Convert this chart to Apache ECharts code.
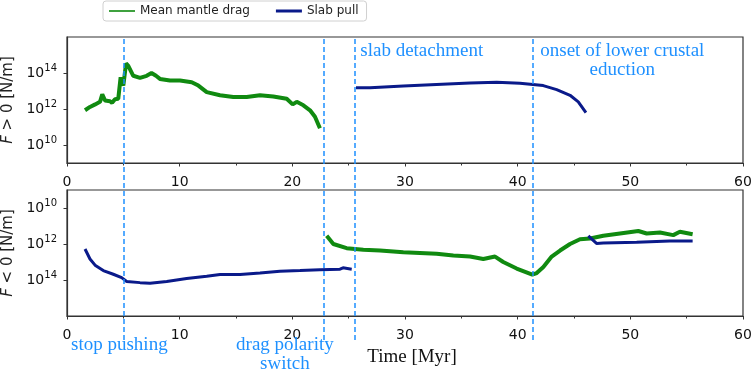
<!DOCTYPE html>
<html>
<head>
<meta charset="utf-8">
<script src="https://cdn.jsdelivr.net/npm/echarts@6/dist/echarts.min.js"></script>
<style>html,body{margin:0;padding:0;background:#fff}#c{width:754px;height:374px}</style>
</head>
<body>
<div id="c"></div>
<script>
// ---- data (time in Myr, force in N/m) ----
const dragUpperT = [1.6,2.04,2.5,2.93,3.13,3.37,3.82,4.0,4.26,4.55,4.76,5.0,5.24,5.44,5.88,6.48,7.07,7.5,7.9,8.25,9.14,10.03,11.07,11.66,12.4,13.58,14.76,15.95,17.13,18.31,19.5,20.03,20.39,20.98,21.57,22.01,22.45];
const dragUpperF = [8.5e11,1.3e12,1.8e12,2.5e12,6.5e12,3.0e12,2.7e12,2.2e12,3.5e12,3.7e12,5.8e13,2.0e13,3.4e14,2.5e14,7.0e13,5.4e13,7.0e13,1.0e14,7.0e13,4.7e13,3.8e13,3.8e13,3.1e13,2.0e13,8.7e12,5.8e12,4.6e12,4.6e12,5.8e12,5.0e12,3.7e12,1.8e12,2.5e12,1.6e12,8.5e11,3.7e11,8.5e10];

const pullUpperT = [25.65,26.9,29.85,32.8,35.77,38.14,40.2,42.27,43.46,44.65,45.38,46.06];
const pullUpperF = [1.5e13,1.5e13,1.9e13,2.3e13,2.8e13,3.1e13,2.7e13,2.0e13,1.2e13,5.8e12,2.5e12,6.2e11];

const pullLowerT = [1.6,2.04,2.49,3.22,4.11,4.85,5.3,6.48,7.37,8.85,10.62,12.4,13.58,15.36,17.13,18.9,20.68,22.45,24.23,24.5,25.27];
const pullLowerF = [1.9e12,6.8e12,1.5e13,3.0e13,4.8e13,7.4e13,1.2e14,1.4e14,1.5e14,1.2e14,8.3e13,6.2e13,5.0e13,5.0e13,4.1e13,3.3e13,3.0e13,2.7e13,2.5e13,2.1e13,2.5e13];

const pullLateT = [46.27,47.0,47.6,50.56,53.5,55.53];
const pullLateF = [3.5e11,9.3e11,8.9e11,8.1e11,6.9e11,6.9e11];

const dragLowerT = [23.05,23.64,24.82,26.3,27.78,29.85,32.81,34.29,35.77,35.92,36.95,37.99,38.72,39.91,41.3,41.69,42.28,43.02,43.76,44.65,45.53,46.42,47.6,49.08,50.71,51.45,52.63,53.81,54.4,55.53];
const dragLowerF = [3.5e11,1.0e12,1.7e12,2.1e12,2.3e12,2.9e12,3.5e12,4.4e12,5.0e12,3.9e12,6.8e12,5.0e12,1.0e13,2.3e13,5.0e13,4.1e13,1.9e13,5.0e12,2.3e12,1.0e12,5.4e11,4.9e11,3.5e11,2.6e11,1.9e11,2.6e11,2.3e11,3.2e11,2.1e11,2.9e11];

const eventTimes = [5.0, 22.8, 25.5, 41.3];
const xTicks = [0, 10, 20, 30, 40, 50, 60];
const yTicks = [1e10, 1e12, 1e14];
const seriesNames = ['Mean mantle drag', 'Slab pull'];
const annotations = [
  {t: 25.5, lines: ['slab detachment'], where: 'top', dx: 6, align: 'left'},
  {t: 41.3, lines: ['onset of lower crustal', 'eduction'], where: 'top', dx: 90, align: 'center'},
  {t: 5.0, lines: ['stop pushing'], where: 'bottom', dx: -4, align: 'center'},
  {t: 22.8, lines: ['drag polarity', 'switch'], where: 'bottom', dx: -39, align: 'center'}
];

const GREEN = '#108a10';
const NAVY = '#0a1a8a';
const EVENT = '#1e90ff';

function pairs(t, f) { return t.map((v, i) => [v, f[i]]); }

const chart = echarts.init(document.getElementById('c'), null, {renderer: 'canvas'});

function yAxis(gridIndex, inverse, name) {
  return {
    type: 'log', logBase: 10, gridIndex: gridIndex, min: 1e9, max: 1e16, inverse: inverse,
    name: name, nameLocation: 'middle', nameGap: 44,
    nameTextStyle: {fontFamily: 'DejaVu Sans', fontSize: 15, color: '#222',
      rich: {i: {fontFamily: 'DejaVu Sans', fontStyle: 'italic', fontSize: 15, color: '#222'}}},
    axisLine: {show: true, lineStyle: {color: '#333', width: 1.2}},
    axisTick: {show: true, length: 3.5, customValues: yTicks, lineStyle: {color: '#333'}},
    splitLine: {show: false},
    axisLabel: {
      margin: 10, color: '#111', fontFamily: 'DejaVu Sans', fontSize: 14,
      customValues: yTicks,
      formatter: function (v) {
        const e = Math.round(Math.log10(v));
        return '10{s|' + e + '}';
      },
      rich: {s: {fontSize: 10, verticalAlign: 'top', padding: [0, 0, 9, 0], fontFamily: 'DejaVu Sans', color: '#111'}}
    }
  };
}

function xAxis(gridIndex, show) {
  return {
    type: 'value', gridIndex: gridIndex, min: 0, max: 60, interval: 10, show: show,
    axisLine: {show: true, onZero: false, lineStyle: {color: '#333', width: 1.2}},
    axisTick: {show: true, length: 3.5, lineStyle: {color: '#333'}},
    minorTick: {show: true, splitNumber: 2, length: 2.5, lineStyle: {color: '#333'}},
    splitLine: {show: false},
    axisLabel: {margin: 12, color: '#111', fontFamily: 'DejaVu Sans', fontSize: 14,
      formatter: v => (xTicks.indexOf(v) >= 0 ? String(v) : '')}
  };
}

const xBottom = xAxis(1, true);
xBottom.name = 'Time [Myr]';
xBottom.nameLocation = 'middle';
xBottom.nameGap = 32;
xBottom.nameTextStyle = {fontFamily: 'Liberation Serif', fontSize: 19, color: '#111', padding: [0, 0, 0, 14]};

const gridBase = {left: 67, right: 11, containLabel: false, outerBoundsMode: 'none'};

const option = {
  animation: false,
  backgroundColor: '#fff',
  legend: {
    left: 103, top: 1, width: 266,
    padding: [4, 8, 4, 6], itemGap: 26, itemWidth: 26, itemHeight: 10,
    borderColor: '#d0d0d0', borderWidth: 1, borderRadius: 3,
    textStyle: {fontFamily: 'DejaVu Sans', fontSize: 12, color: '#222'},
    data: [
      {name: seriesNames[0], icon: 'path://M0,0L26,0L26,1.6L0,1.6Z', itemStyle: {color: GREEN}},
      {name: seriesNames[1], icon: 'path://M0,0L26,0L26,3L0,3Z', itemStyle: {color: NAVY}}
    ]
  },
  grid: [
    Object.assign({top: 37, height: 126, show: true, borderColor: '#333', borderWidth: 1.2, backgroundColor: 'transparent'}, gridBase),
    Object.assign({top: 190, height: 126, show: true, borderColor: '#333', borderWidth: 1.2, backgroundColor: 'transparent'}, gridBase),
    Object.assign({top: 37, bottom: 34, show: false}, gridBase)
  ],
  xAxis: [xAxis(0, true), xBottom,
    {type: 'value', gridIndex: 2, min: 0, max: 60, show: false}],
  yAxis: [yAxis(0, false, '{i|F} > 0 [N/m]'), yAxis(1, true, '{i|F} < 0 [N/m]'),
    {type: 'value', gridIndex: 2, min: 0, max: 1, show: false}],
  series: [
    {name: seriesNames[0], type: 'line', xAxisIndex: 0, yAxisIndex: 0, showSymbol: false, symbol: 'none',
      data: pairs(dragUpperT, dragUpperF), lineStyle: {color: GREEN, width: 4}, itemStyle: {color: GREEN}, z: 3},
    {name: seriesNames[1], type: 'line', xAxisIndex: 0, yAxisIndex: 0, showSymbol: false, symbol: 'none',
      data: pairs(pullUpperT, pullUpperF), lineStyle: {color: NAVY, width: 3}, itemStyle: {color: NAVY}, z: 3},
    {name: seriesNames[1], type: 'line', xAxisIndex: 1, yAxisIndex: 1, showSymbol: false, symbol: 'none',
      data: pairs(pullLowerT, pullLowerF), lineStyle: {color: NAVY, width: 3}, itemStyle: {color: NAVY}, z: 3},
    {name: seriesNames[0], type: 'line', xAxisIndex: 1, yAxisIndex: 1, showSymbol: false, symbol: 'none',
      data: pairs(dragLowerT, dragLowerF), lineStyle: {color: GREEN, width: 4}, itemStyle: {color: GREEN}, z: 3},
    {name: seriesNames[1], type: 'line', xAxisIndex: 1, yAxisIndex: 1, showSymbol: false, symbol: 'none',
      data: pairs(pullLateT, pullLateF), lineStyle: {color: NAVY, width: 3}, itemStyle: {color: NAVY}, z: 4},
    {name: 'events', type: 'scatter', xAxisIndex: 2, yAxisIndex: 2, data: [], silent: true,
      markLine: {silent: true, symbol: ['none', 'none'], label: {show: false},
        lineStyle: {color: EVENT, type: [5, 3], width: 1.5},
        data: eventTimes.map(t => ({xAxis: t}))}, z: 5}
  ]
};
chart.setOption(option);

// annotations anchored to event times through the axis scale
const gfx = annotations.map(a => {
  const x = chart.convertToPixel({xAxisIndex: 2}, a.t);
  const isTop = a.where === 'top';
  const baseY = isTop ? chart.convertToPixel({yAxisIndex: 0}, 1e16) : chart.convertToPixel({yAxisIndex: 1}, 1e16);
  return {
    type: 'text', silent: true, z: 10,
    x: x + a.dx, y: isTop ? baseY + 5 : baseY + 20,
    style: {
      text: a.lines.join('\n'), fill: EVENT, font: '19px "Liberation Serif"',
      align: a.align, lineHeight: 19, verticalAlign: 'top'
    }
  };
});
chart.setOption({graphic: gfx});
</script>
</body>
</html>
